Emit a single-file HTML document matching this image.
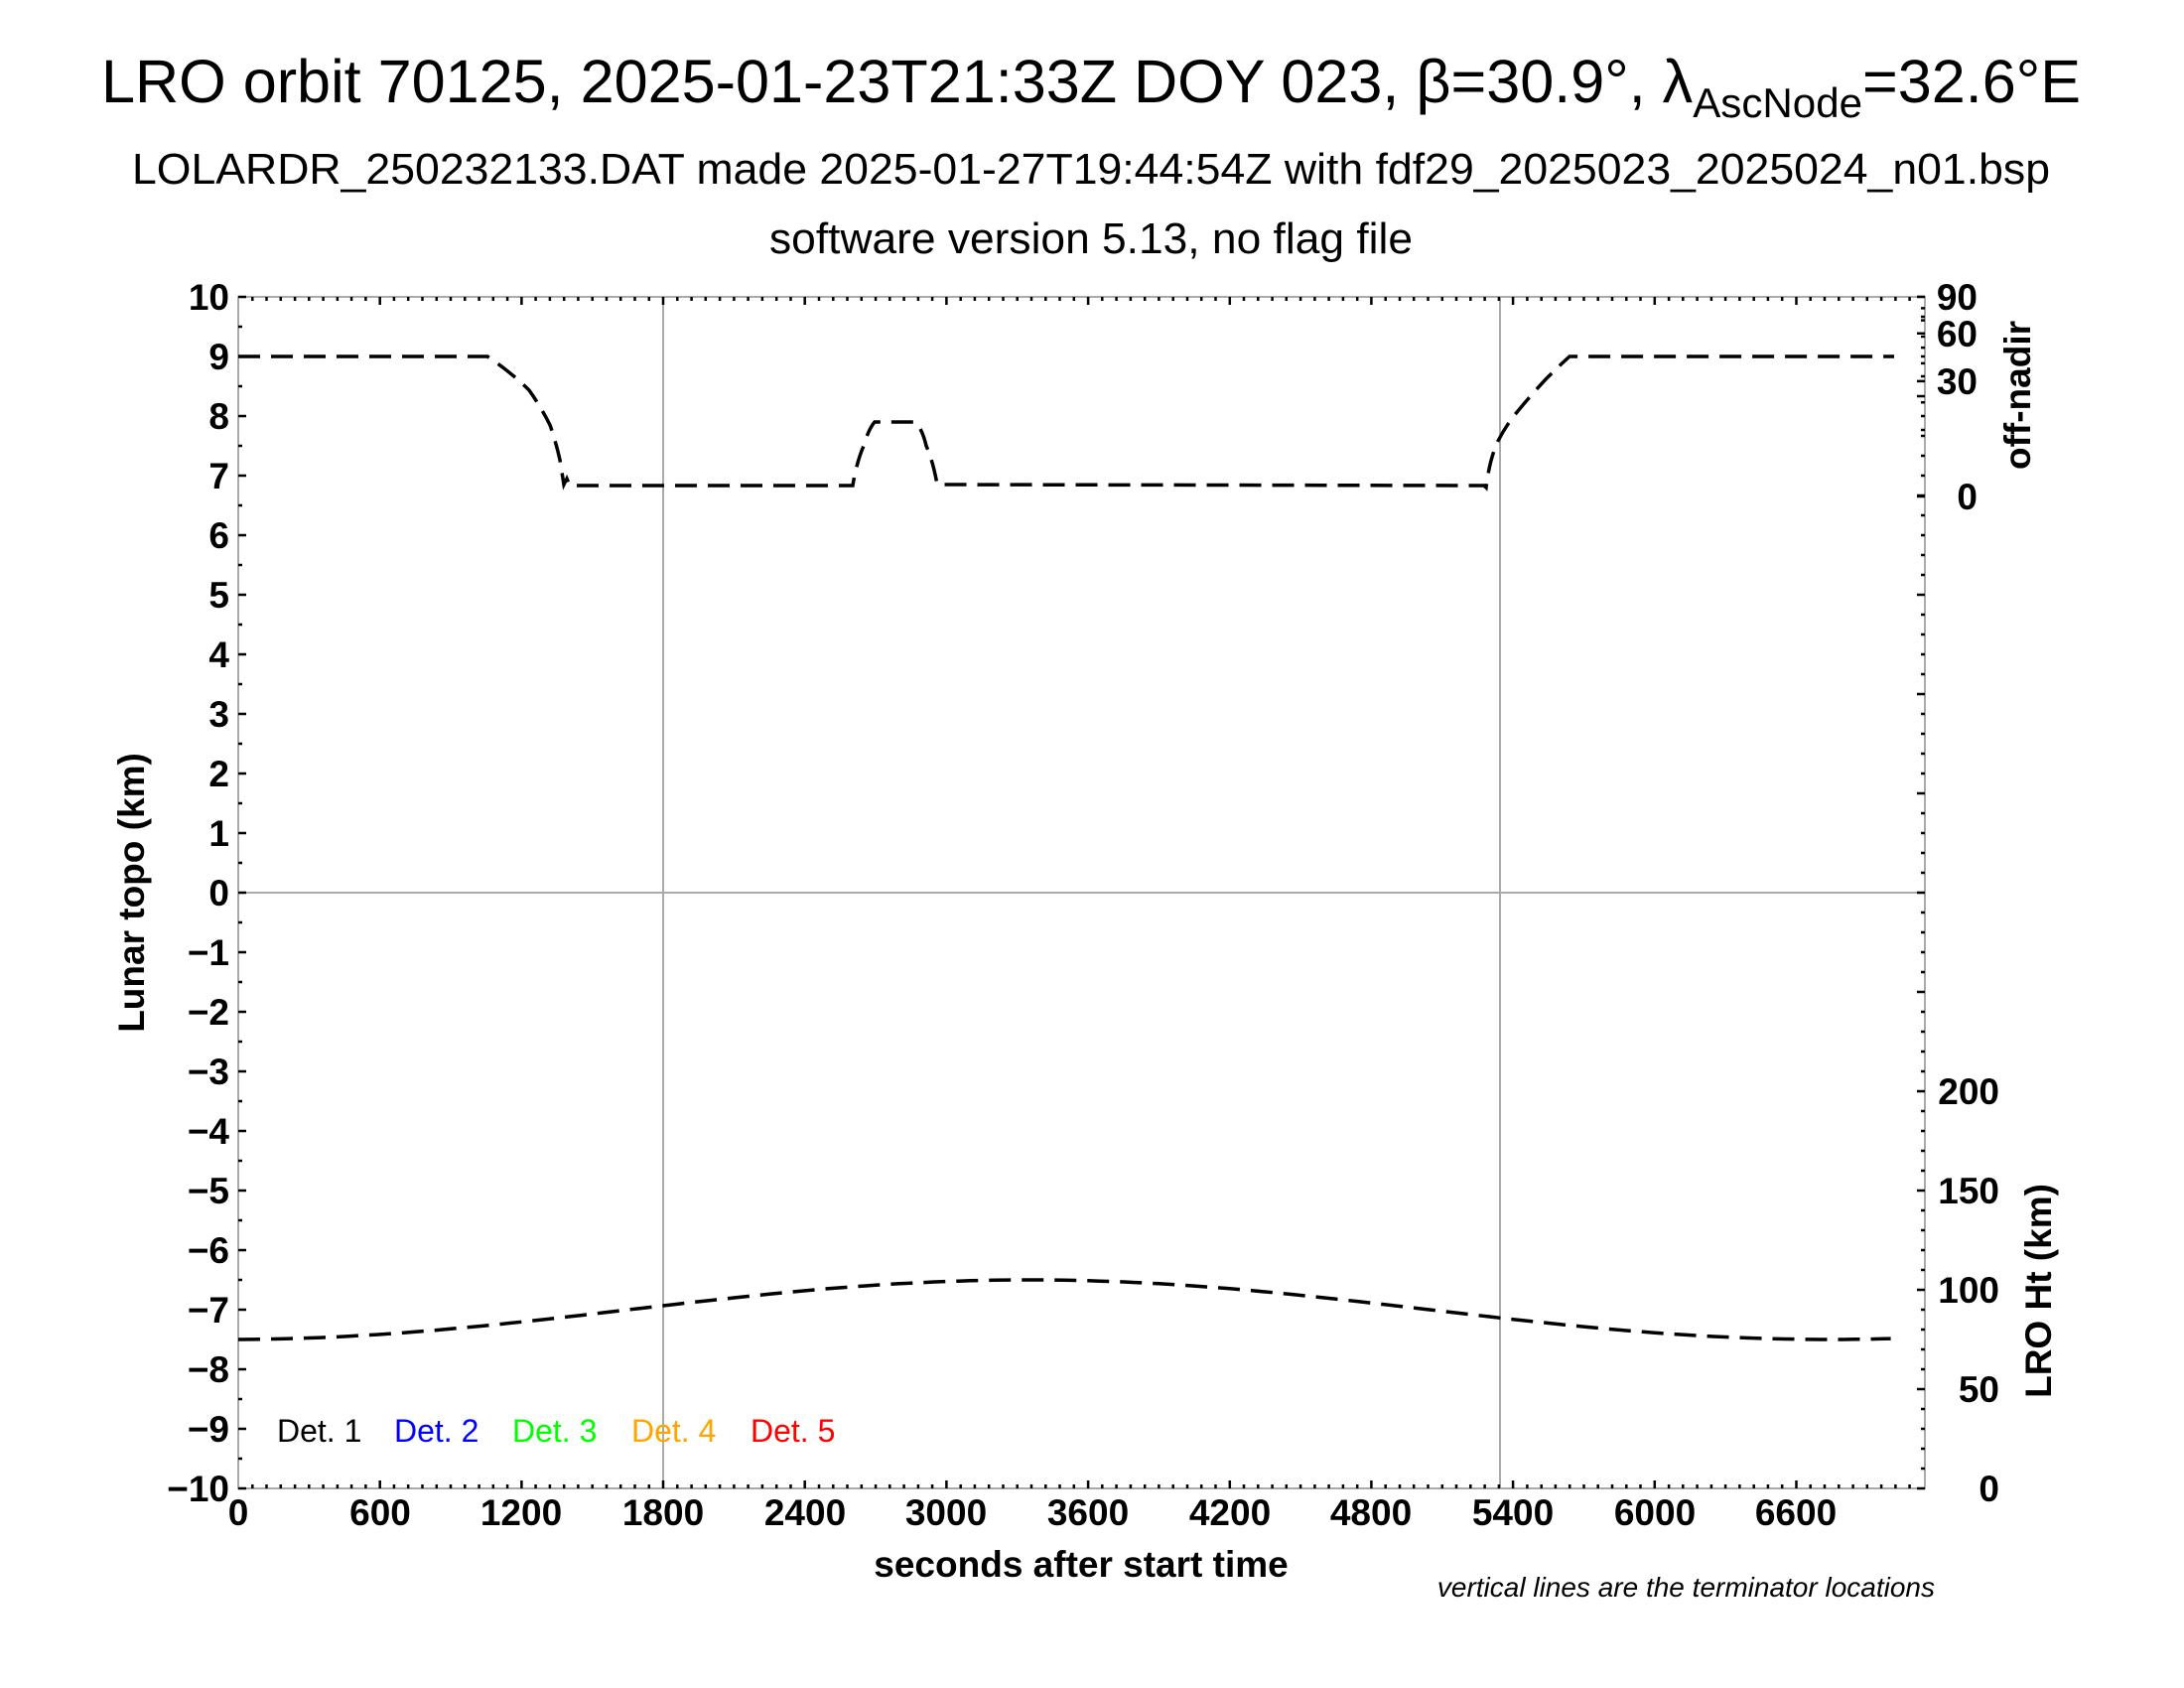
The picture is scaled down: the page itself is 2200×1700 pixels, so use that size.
<!DOCTYPE html>
<html><head><meta charset="utf-8"><style>html,body{margin:0;padding:0;background:#fff}svg{display:block}</style></head><body>
<svg xmlns="http://www.w3.org/2000/svg" width="2200" height="1700" viewBox="0 0 2200 1700" font-family="Liberation Sans, Arial, sans-serif">
<rect width="2200" height="1700" fill="#fff"/>
<text x="102" y="103" font-size="61" textLength="1994" lengthAdjust="spacingAndGlyphs">LRO orbit 70125, 2025-01-23T21:33Z DOY 023, β=30.9°, λ<tspan font-size="42" dy="15">AscNode</tspan><tspan dy="-15">=32.6°E</tspan></text>
<text x="133" y="185" font-size="44" textLength="1932" lengthAdjust="spacingAndGlyphs">LOLARDR_250232133.DAT made 2025-01-27T19:44:54Z with fdf29_2025023_2025024_n01.bsp</text>
<text x="775" y="255" font-size="44" textLength="648" lengthAdjust="spacingAndGlyphs">software version 5.13, no flag file</text>
<g stroke="#aaa" stroke-width="2" fill="none">
<rect x="240" y="299" width="1699" height="1200"/>
<line x1="668" y1="299" x2="668" y2="1499"/>
<line x1="1511" y1="299" x2="1511" y2="1499"/>
<line x1="240" y1="899" x2="1939" y2="899"/>
</g>
<g stroke="#000" stroke-width="2.5">
<path d="M240 299h8M240 359h8M240 419h8M240 479h8M240 539h8M240 599h8M240 659h8M240 719h8M240 779h8M240 839h8M240 899h8M240 959h8M240 1019h8M240 1079h8M240 1139h8M240 1199h8M240 1259h8M240 1319h8M240 1379h8M240 1439h8M240 1499h8"/>
<path d="M240 329h4M240 389h4M240 449h4M240 509h4M240 569h4M240 629h4M240 689h4M240 749h4M240 809h4M240 869h4M240 929h4M240 989h4M240 1049h4M240 1109h4M240 1169h4M240 1229h4M240 1289h4M240 1349h4M240 1409h4M240 1469h4"/>
</g>
<g id="xt" stroke="#000" stroke-width="2.5"></g>
<g id="rt" stroke="#000" stroke-width="2.5"></g>
<g font-size="37" font-weight="bold" text-anchor="end">
<text x="231" y="312">10</text><text x="231" y="372">9</text><text x="231" y="432">8</text><text x="231" y="492">7</text><text x="231" y="552">6</text><text x="231" y="612">5</text><text x="231" y="672">4</text><text x="231" y="732">3</text><text x="231" y="792">2</text><text x="231" y="852">1</text><text x="231" y="912">0</text><text x="231" y="972">−1</text><text x="231" y="1032">−2</text><text x="231" y="1092">−3</text><text x="231" y="1152">−4</text><text x="231" y="1212">−5</text><text x="231" y="1272">−6</text><text x="231" y="1332">−7</text><text x="231" y="1392">−8</text><text x="231" y="1452">−9</text><text x="231" y="1512">−10</text>
</g>
<g font-size="37" font-weight="bold" text-anchor="middle">
<text x="240" y="1536">0</text><text x="383" y="1536">600</text><text x="525" y="1536">1200</text><text x="668" y="1536">1800</text><text x="811" y="1536">2400</text><text x="953" y="1536">3000</text><text x="1096" y="1536">3600</text><text x="1239" y="1536">4200</text><text x="1381" y="1536">4800</text><text x="1524" y="1536">5400</text><text x="1667" y="1536">6000</text><text x="1809" y="1536">6600</text>
<text x="1089" y="1588">seconds after start time</text>
</g>
<g font-size="37" font-weight="bold" text-anchor="end">
<text x="1992" y="312">90</text><text x="1992" y="349">60</text><text x="1992" y="397">30</text><text x="1992" y="513">0</text>
<text x="2014" y="1512">0</text><text x="2014" y="1412">50</text><text x="2014" y="1312">100</text><text x="2014" y="1212">150</text><text x="2014" y="1112">200</text>
</g>
<g font-size="37" font-weight="bold" text-anchor="middle">
<text transform="translate(2045,398) rotate(-90)">off-nadir</text>
<text transform="translate(2066,1300) rotate(-90)">LRO Ht (km)</text>
<text transform="translate(145,899) rotate(-90)">Lunar topo (km)</text>
</g>
<text x="1949" y="1608" font-size="28" font-style="italic" text-anchor="end">vertical lines are the terminator locations</text>
<g font-size="32">
<text x="279" y="1452" fill="#000">Det. 1</text><text x="397" y="1452" fill="#00f">Det. 2</text><text x="516" y="1452" fill="#0f0">Det. 3</text><text x="636" y="1452" fill="#ffa500">Det. 4</text><text x="756" y="1452" fill="#f00">Det. 5</text>
</g>
<g fill="none" stroke="#000" stroke-width="3.5" stroke-dasharray="22 11">
<path d="M240 359 L491 359 Q515 375 533 393 Q545 410 554 428 Q560 445 564 463 L568 488 L571 482 L574 489 L859 489 Q863 465 870 449 Q875 432 881 425 L922 425 Q929 432 933 449 Q940 465 944 488 L1495 489 L1497 491 Q1500 465 1508 446 Q1517 428 1529 414 Q1543 397 1557 382 Q1570 369 1581 359 L1908 359"/>
<path id="ht" d=""/>
</g>
<script>
(function(){
var ns="http://www.w3.org/2000/svg";
function px(t){return 240+t*0.2378;}
var d="";
for(var t=0;t<=7015;t+=50){var h=90+15*Math.cos(2*Math.PI*(t-3350)/6780);d+=(t?"L":"M")+px(t).toFixed(1)+" "+(1499-2*h).toFixed(1);}
document.getElementById("ht").setAttribute("d",d);
var xt="";
for(var s=60;s<7140;s+=60){var x=px(s).toFixed(1);var L=(s%600==0)?8:4;xt+="M"+x+" 1499v-"+L+"M"+x+" 299v"+L;}
var g=document.getElementById("xt");var p=document.createElementNS(ns,"path");p.setAttribute("d",xt);g.appendChild(p);
var rt="";
for(var y=1499;y>=299;y-=20){var L=((1499-y)%100==0)?8:4;rt+="M1939 "+y+"h-"+L;}
for(var v=0;v<=90;v+=10){var y=500-Math.sqrt(v)*21.2;var L=(v%30==0)?8:4;rt+="M1939 "+y.toFixed(1)+"h-"+L;}
var g2=document.getElementById("rt");var p2=document.createElementNS(ns,"path");p2.setAttribute("d",rt);g2.appendChild(p2);
})();
</script>
</svg>
</body></html>
